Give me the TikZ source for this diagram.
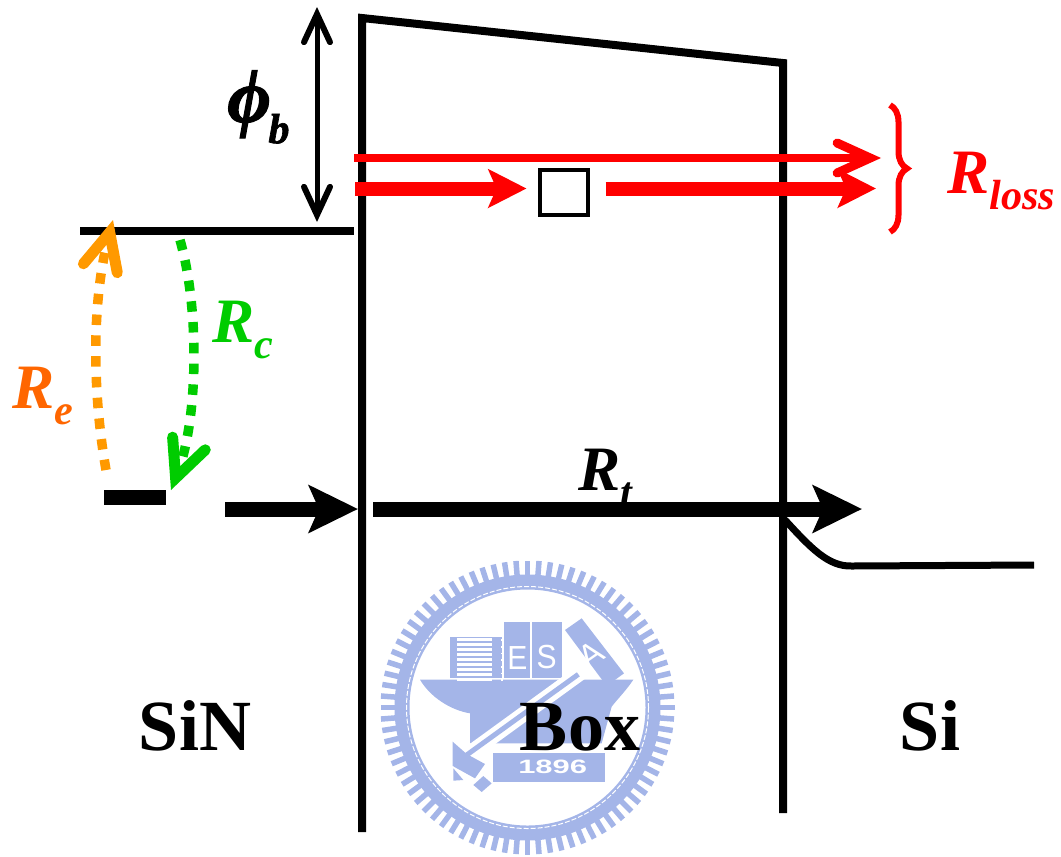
\documentclass[tikz,border=0pt]{standalone}
\usepackage{xcolor}
\usepackage{fontspec}
\setmainfont{Liberation Serif}
\setsansfont{Liberation Sans}
\usetikzlibrary{arrows.meta,positioning,calc,decorations.pathreplacing}
\definecolor{lossRed}   {RGB}{255,   0,   0}
\definecolor{emitOrange}{RGB}{255, 153,   0}
\definecolor{reOrange}  {RGB}{255, 102,   0}
\definecolor{capGreen}  {RGB}{  0, 204,   0}
\definecolor{sealBlue}  {RGB}{164, 181, 232}
\newcommand{\rlabel}[2]{{\fontsize{36}{36}\selectfont\bfseries\itshape #1\raisebox{-9.6pt}{\fontsize{24}{24}\selectfont #2}}}
\tikzset{
  wall/.style={line width=1.6mm,line join=miter},
  blackarrow/.style={line width=3mm,-{Stealth[length=9.8mm,width=9.4mm,inset=2mm]}},
  redarrow/.style={lossRed,line width=2.8mm,-{Stealth[length=7.6mm,width=7.6mm,inset=1.6mm]}},
  dotarrow/.style={line width=1.9mm,dash pattern=on 2.1mm off 2.06mm,
    -{Straight Barb[length=7.4mm,width=7mm,line width=2.2mm,line cap=round,line join=miter]}},
  layertext/.style={font=\fontsize{41}{41}\selectfont\bfseries,anchor=base,inner sep=0pt},
  sealtext/.style={font=\sffamily\fontsize{19}{19}\selectfont,white,inner sep=0pt},
  seal/.style={fill=sealBlue,draw=none}
}
\begin{document}
\begin{tikzpicture}[x=0.02cm,y=-0.02cm]
    \useasboundingbox (0,0) rectangle (1061,856);

    % seal behind the band diagram
    \begin{scope}[shift={(527.5,707.5)}]
      \draw[sealBlue,line width=3mm] (0,0) circle (125.5);
      \draw[white,line width=0.2mm,dash pattern=on 1mm off 0.4mm] (0,0) circle (121);
      \foreach \a in {0,4.5,...,355.5}{\draw[sealBlue,line width=1.1mm] (\a:128)--(\a:147);}
    \end{scope}
    \begin{scope}[shift={(430,610)},scale=1/3]
      \fill[seal] (-30,209) -- (610,209) .. controls (590,240) and (560,270) .. (545,290)
        -- (515,400) -- (120,400) -- (120,310) .. controls (60,300) and (0,260) .. cycle;
      \fill[seal] (60,80) rectangle (215,205);
      \foreach \y in {85,100,...,205}{\fill[white] (82,\y) rectangle (185,\y+9);}
      \foreach \y in {88,108,...,208}{\fill[white] (212,\y) rectangle (218,\y+5);}
      \fill[seal] (221,35) rectangle (299,205);
      \fill[seal] (306,35) rectangle (396,205);
      \fill[seal] (405,60) -- (455,25) -- (582,190) -- (530,228) -- cycle;
      \node[sealtext,xscale=0.9] (sealE) at (262,145){E};
      \node[sealtext,xscale=0.9] (sealS) at (350,140){S};
      \node[sealtext,rotate=35] (sealA) at (484,135){A};
      % tool across the hull
      \draw[white,line width=3mm] (452,188) -- (105,440);
      \draw[sealBlue,line width=1mm] (445,193) -- (110,435);
      \fill[seal] (68,395) -- (110,432) -- (165,462) -- (135,505) -- (68,468) -- cycle;
      \fill[white] (68,468) -- (100,505) -- (68,510) -- cycle;
      \fill[seal] (70,475) -- (100,510) -- (70,512) -- cycle;
      \fill[seal] (130,525) -- (160,498) -- (185,520) -- (155,546) -- cycle;
      \fill[seal] (190,430) rectangle (525,515);
      \node[sealtext,font=\sffamily\bfseries\fontsize{11}{11}\selectfont,xscale=1.6] (sealYear) at (368,470){1896};
    \end{scope}

    % potential profile
    \coordinate (wallLB) at (362,832);
    \coordinate (wallLT) at (362,18);
    \coordinate (wallRT) at (783,63);
    \coordinate (wallRB) at (783,813);
    \draw[wall] (wallLB)--(wallLT)--(wallRT)--(wallRB);
    \coordinate (sinL) at (80,231);
    \coordinate (sinR) at (354,231);
    \draw[wall] (sinL)--(sinR);
    \coordinate (trapL) at (104,497.5);
    \coordinate (trapR) at (166,497.5);
    \draw[line width=3mm] (trapL)--(trapR);
    \coordinate (siStart) at (785,520);
    \coordinate (siMid) at (852,566);
    \coordinate (siEnd) at (1034,565);
    \draw[line width=1.4mm] (siStart) .. controls (810,547) and (828,567) .. (siMid) -- (siEnd);

    % barrier height
    \coordinate (phiTop) at (317,7);
    \coordinate (phiBot) at (317,222);
    \draw[line width=1mm,{Straight Barb[length=5.6mm,width=5.2mm,line width=1.2mm,line cap=round,line join=miter]}-{Straight Barb[length=5.6mm,width=5.2mm,line width=1.2mm,line cap=round,line join=miter]}] (phiTop)--(phiBot);
    \node[anchor=base west,inner sep=0pt] (phib) at (227,122)
      {\fontsize{43}{43}\selectfont\bfseries\itshape\addfontfeature{FakeBold=1.5}ϕ\hspace{-1.5pt}\raisebox{-12pt}{\fontsize{24}{24}\selectfont b}};

    % loss paths
    \coordinate (thinIn) at (354,158);
    \coordinate (thinOut) at (881,158);
    \coordinate (redIn) at (355,188.5);
    \coordinate (redOut) at (876,188.5);
    \node[draw,line width=0.8mm,minimum width=9.6mm,minimum height=9mm,inner sep=0pt,outer sep=0pt] (trapBox) at (563.5,192.5){};
    \draw[lossRed,line width=1.6mm,-{Straight Barb[length=6.6mm,width=6mm,line width=1.8mm,line cap=round,line join=miter]}] (thinIn)--(thinOut);
    \draw[redarrow,shorten >=2.6mm] (redIn)--(redIn -| trapBox.west);
    \draw[redarrow,shorten <=3.6mm] (redOut -| trapBox.east)--(redOut);
    \coordinate (braceTop) at (890,105);
    \coordinate (braceBot) at (890,232);
    \draw[lossRed,line width=1.2mm,decorate,decoration={brace,amplitude=3.4mm}] (braceTop)--(braceBot);
    \node[anchor=base west,inner sep=0pt,lossRed] (rloss) at (947,193){\rlabel{R}{loss}};

    % capture and emission
    \coordinate (reStart) at (106,470);
    \coordinate (reEnd) at (113,220);
    \coordinate (rcStart) at (180,240);
    \coordinate (rcEnd) at (171,490);
    \draw[dotarrow,emitOrange] (reStart) .. controls (92,390) and (92,300) .. (reEnd);
    \draw[dotarrow,capGreen] (rcStart) .. controls (200,310) and (198,420) .. (rcEnd);
    \node[anchor=base west,inner sep=0pt,reOrange] (re) at (12,408){\rlabel{R}{e}};
    \node[anchor=base west,inner sep=0pt,capGreen] (rc) at (212,342){\rlabel{R}{c}};

    % tunnelling
    \node[anchor=base west,inner sep=0pt] (rt) at (578,490){\rlabel{R}{t}};
    \coordinate (tunA) at (225,509);
    \coordinate (tunB) at (358,509);
    \coordinate (tunC) at (373,509);
    \coordinate (tunD) at (862,509);
    \draw[blackarrow] (tunA)--(tunB);
    \draw[blackarrow] (tunC)--(tunD);

    % layers
    \node[layertext] (sin) at (195,750){SiN};
    \node[layertext] (box) at (580,750){Box};
    \node[layertext] (si) at (930,750){Si};

  \end{tikzpicture}
\end{document}
